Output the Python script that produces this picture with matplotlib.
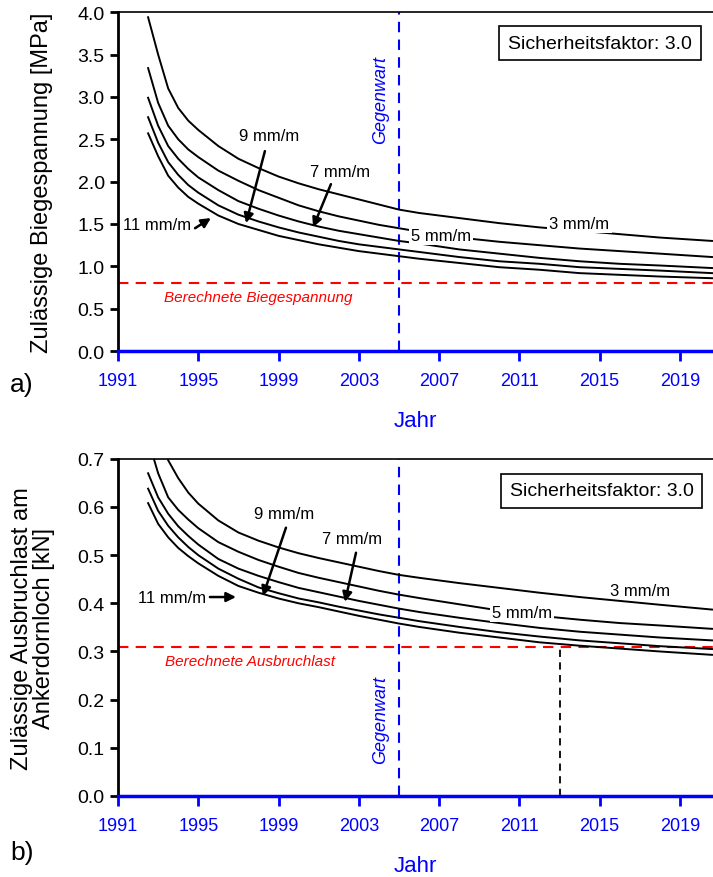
import numpy as np
import matplotlib
matplotlib.use("Agg")
import matplotlib.pyplot as plt

plt.rcParams['font.family'] = ['Liberation Sans', 'DejaVu Sans']

# Jahre (Stützstellen der Kurven)
jahre = [1992.5, 1993, 1993.5, 1994, 1994.5, 1995, 1996, 1997, 1998, 1999, 2000, 2001,
         2002, 2003, 2004, 2005, 2006, 2008, 2010, 2012, 2014, 2016, 2018, 2020.6]

# a) Zulässige Biegespannung [MPa]
biege_3 = [3.94, 3.50, 3.10, 2.87, 2.72, 2.61, 2.42, 2.27, 2.16, 2.06, 1.98, 1.91,
           1.85, 1.79, 1.73, 1.67, 1.63, 1.57, 1.51, 1.46, 1.42, 1.38, 1.34, 1.30]
biege_5 = [3.34, 2.93, 2.66, 2.50, 2.38, 2.29, 2.13, 2.01, 1.90, 1.81, 1.72, 1.65,
           1.59, 1.54, 1.49, 1.45, 1.41, 1.34, 1.29, 1.25, 1.21, 1.18, 1.15, 1.11]
biege_7 = [2.99, 2.66, 2.42, 2.27, 2.15, 2.05, 1.90, 1.77, 1.68, 1.60, 1.53, 1.47,
           1.42, 1.38, 1.34, 1.30, 1.27, 1.20, 1.15, 1.10, 1.06, 1.03, 1.01, 0.98]
biege_9 = [2.76, 2.46, 2.23, 2.08, 1.96, 1.87, 1.72, 1.61, 1.53, 1.46, 1.40, 1.35,
           1.30, 1.26, 1.23, 1.20, 1.17, 1.11, 1.06, 1.03, 0.99, 0.97, 0.95, 0.92]
biege_11 = [2.57, 2.30, 2.07, 1.93, 1.82, 1.74, 1.60, 1.50, 1.43, 1.36, 1.31, 1.26,
            1.22, 1.18, 1.15, 1.12, 1.09, 1.04, 0.99, 0.96, 0.92, 0.90, 0.88, 0.86]
biege_berechnet = 0.8

# b) Zulässige Ausbruchlast [kN]
aus_3 = [0.86, 0.76, 0.697, 0.660, 0.630, 0.607, 0.572, 0.547, 0.530, 0.516, 0.504, 0.494,
         0.485, 0.476, 0.467, 0.459, 0.453, 0.442, 0.432, 0.422, 0.413, 0.405, 0.397, 0.387]
aus_5 = [0.74, 0.67, 0.620, 0.594, 0.574, 0.556, 0.527, 0.507, 0.490, 0.476, 0.463, 0.453,
         0.444, 0.435, 0.426, 0.418, 0.411, 0.398, 0.385, 0.374, 0.366, 0.359, 0.354, 0.347]
aus_7 = [0.670, 0.620, 0.586, 0.560, 0.540, 0.522, 0.492, 0.472, 0.457, 0.444, 0.432, 0.423,
         0.414, 0.405, 0.397, 0.389, 0.382, 0.370, 0.359, 0.349, 0.341, 0.335, 0.329, 0.323]
aus_9 = [0.638, 0.592, 0.561, 0.537, 0.517, 0.500, 0.472, 0.451, 0.433, 0.421, 0.410, 0.402,
         0.393, 0.385, 0.377, 0.370, 0.363, 0.351, 0.340, 0.331, 0.323, 0.317, 0.311, 0.305]
aus_11 = [0.608, 0.565, 0.537, 0.515, 0.498, 0.483, 0.457, 0.436, 0.422, 0.410, 0.400, 0.392,
          0.383, 0.374, 0.366, 0.358, 0.351, 0.339, 0.329, 0.319, 0.312, 0.306, 0.300, 0.293]
aus_berechnet = 0.31
jahr_grenze = 2013.05

gegenwart = 2005
xticks = [1991, 1995, 1999, 2003, 2007, 2011, 2015, 2019]

BLUE = '#0000ff'
RED = '#ff0000'

fig = plt.figure(figsize=(7.13, 8.78), dpi=100)
ax_a = fig.add_axes([0.1655, 0.599, 0.8345, 0.386])
ax_b = fig.add_axes([0.1655, 0.0923, 0.8345, 0.384])


def style_axes(ax, ymax, ystep):
    ax.set_xlim(1991, 2020.65)
    ax.set_ylim(0, ymax)
    ax.set_xticks(xticks)
    ax.set_yticks(np.arange(0, ymax + ystep / 2, ystep))
    ax.yaxis.set_major_formatter(matplotlib.ticker.FormatStrFormatter('%.1f'))
    ax.spines['right'].set_visible(False)
    ax.spines['top'].set_linewidth(1.2)
    ax.spines['left'].set_linewidth(2)
    ax.spines['bottom'].set_linewidth(2.5)
    ax.spines['bottom'].set_color(BLUE)
    ax.tick_params(axis='x', colors=BLUE, direction='out', length=7, width=2,
                   labelsize=13, pad=8)
    ax.tick_params(axis='y', colors='black', direction='out', length=6, width=2,
                   labelsize=14)
    ax.set_xlabel('Jahr', color=BLUE, fontsize=16, labelpad=15)


def draw_curves(ax, curves):
    for c in curves:
        ax.plot(jahre, c, color='black', lw=1.4, zorder=3)


lbl = dict(fontsize=12, ha='center', va='center', zorder=5)
arr = dict(arrowstyle='-|>', lw=1.8, color='black', mutation_scale=14,
           shrinkA=0, shrinkB=0)
white = dict(fc='white', ec='none', pad=1.5)

# ---------- a) ----------
ax = ax_a
style_axes(ax, 4.0, 0.5)
draw_curves(ax, [biege_3, biege_5, biege_7, biege_9, biege_11])
ax.axhline(biege_berechnet, color=RED, ls=(0, (5, 3.5)), lw=1.5, zorder=2)
ax.axvline(gegenwart, color=BLUE, ls=(0, (5, 3.5)), lw=1.5, zorder=2)
ax.set_ylabel('Zulässige Biegespannung [MPa]', fontsize=17, labelpad=18)

ax.text(2007.1, 1.37, '5 mm/m', bbox=white, **lbl)
ax.text(2014.0, 1.51, '3 mm/m', bbox=white, **lbl)
ax.text(1998.52, 2.54, '9 mm/m', **lbl)
ax.annotate('', xy=(1997.38, 1.51), xytext=(1998.32, 2.36), arrowprops=arr)
ax.text(2002.06, 2.12, '7 mm/m', **lbl)
ax.annotate('', xy=(2000.72, 1.46), xytext=(2001.61, 1.97), arrowprops=arr)
ax.text(1992.95, 1.49, '11 mm/m', **lbl)
ax.annotate('', xy=(1995.63, 1.57), xytext=(1994.84, 1.45), arrowprops=arr)
ax.text(2004.1, 2.97, 'Gegenwart', color=BLUE, fontsize=13, style='italic',
        rotation=90, ha='center', va='center')
ax.text(1997.98, 0.64, 'Berechnete Biegespannung', color=RED, fontsize=11,
        style='italic', ha='center', va='center')
ax.text(0.81, 0.909, 'Sicherheitsfaktor: 3.0', transform=ax.transAxes,
        fontsize=14, ha='center', va='center',
        bbox=dict(fc='white', ec='black', lw=1.2, boxstyle='square,pad=0.45'))
fig.text(0.031, 0.561, 'a)', fontsize=19, ha='center', va='center')

# ---------- b) ----------
ax = ax_b
style_axes(ax, 0.7, 0.1)
draw_curves(ax, [aus_3, aus_5, aus_7, aus_9, aus_11])
ax.axhline(aus_berechnet, color=RED, ls=(0, (5, 3.5)), lw=1.5, zorder=2)
ax.axvline(gegenwart, color=BLUE, ls=(0, (5, 3.5)), lw=1.5, zorder=2)
ax.plot([jahr_grenze, jahr_grenze], [0, aus_berechnet], color='black',
        ls=(0, (4, 3)), lw=1.3, zorder=2)
ax.set_ylabel('Zulässige Ausbruchlast am\nAnkerdornloch [kN]', fontsize=17,
              labelpad=16, linespacing=1.0)

ax.text(2011.13, 0.380, '5 mm/m', bbox=white, **lbl)
ax.text(2017.0, 0.426, '3 mm/m', **lbl)
ax.text(1999.27, 0.586, '9 mm/m', **lbl)
ax.annotate('', xy=(1998.22, 0.415), xytext=(1999.37, 0.557), arrowprops=arr)
ax.text(2002.66, 0.534, '7 mm/m', **lbl)
ax.annotate('', xy=(2002.31, 0.403), xytext=(2002.86, 0.505), arrowprops=arr)
ax.text(1993.69, 0.413, '11 mm/m', **lbl)
ax.annotate('', xy=(1996.88, 0.413), xytext=(1995.58, 0.413), arrowprops=arr)
ax.text(2004.1, 0.16, 'Gegenwart', color=BLUE, fontsize=13, style='italic',
        rotation=90, ha='center', va='center')
ax.text(1997.58, 0.28, 'Berechnete Ausbruchlast', color=RED, fontsize=11,
        style='italic', ha='center', va='center')
ax.text(0.813, 0.905, 'Sicherheitsfaktor: 3.0', transform=ax.transAxes,
        fontsize=14, ha='center', va='center',
        bbox=dict(fc='white', ec='black', lw=1.2, boxstyle='square,pad=0.45'))
fig.text(0.031, 0.028, 'b)', fontsize=19, ha='center', va='center')

fig.savefig('out.png', dpi=100)
